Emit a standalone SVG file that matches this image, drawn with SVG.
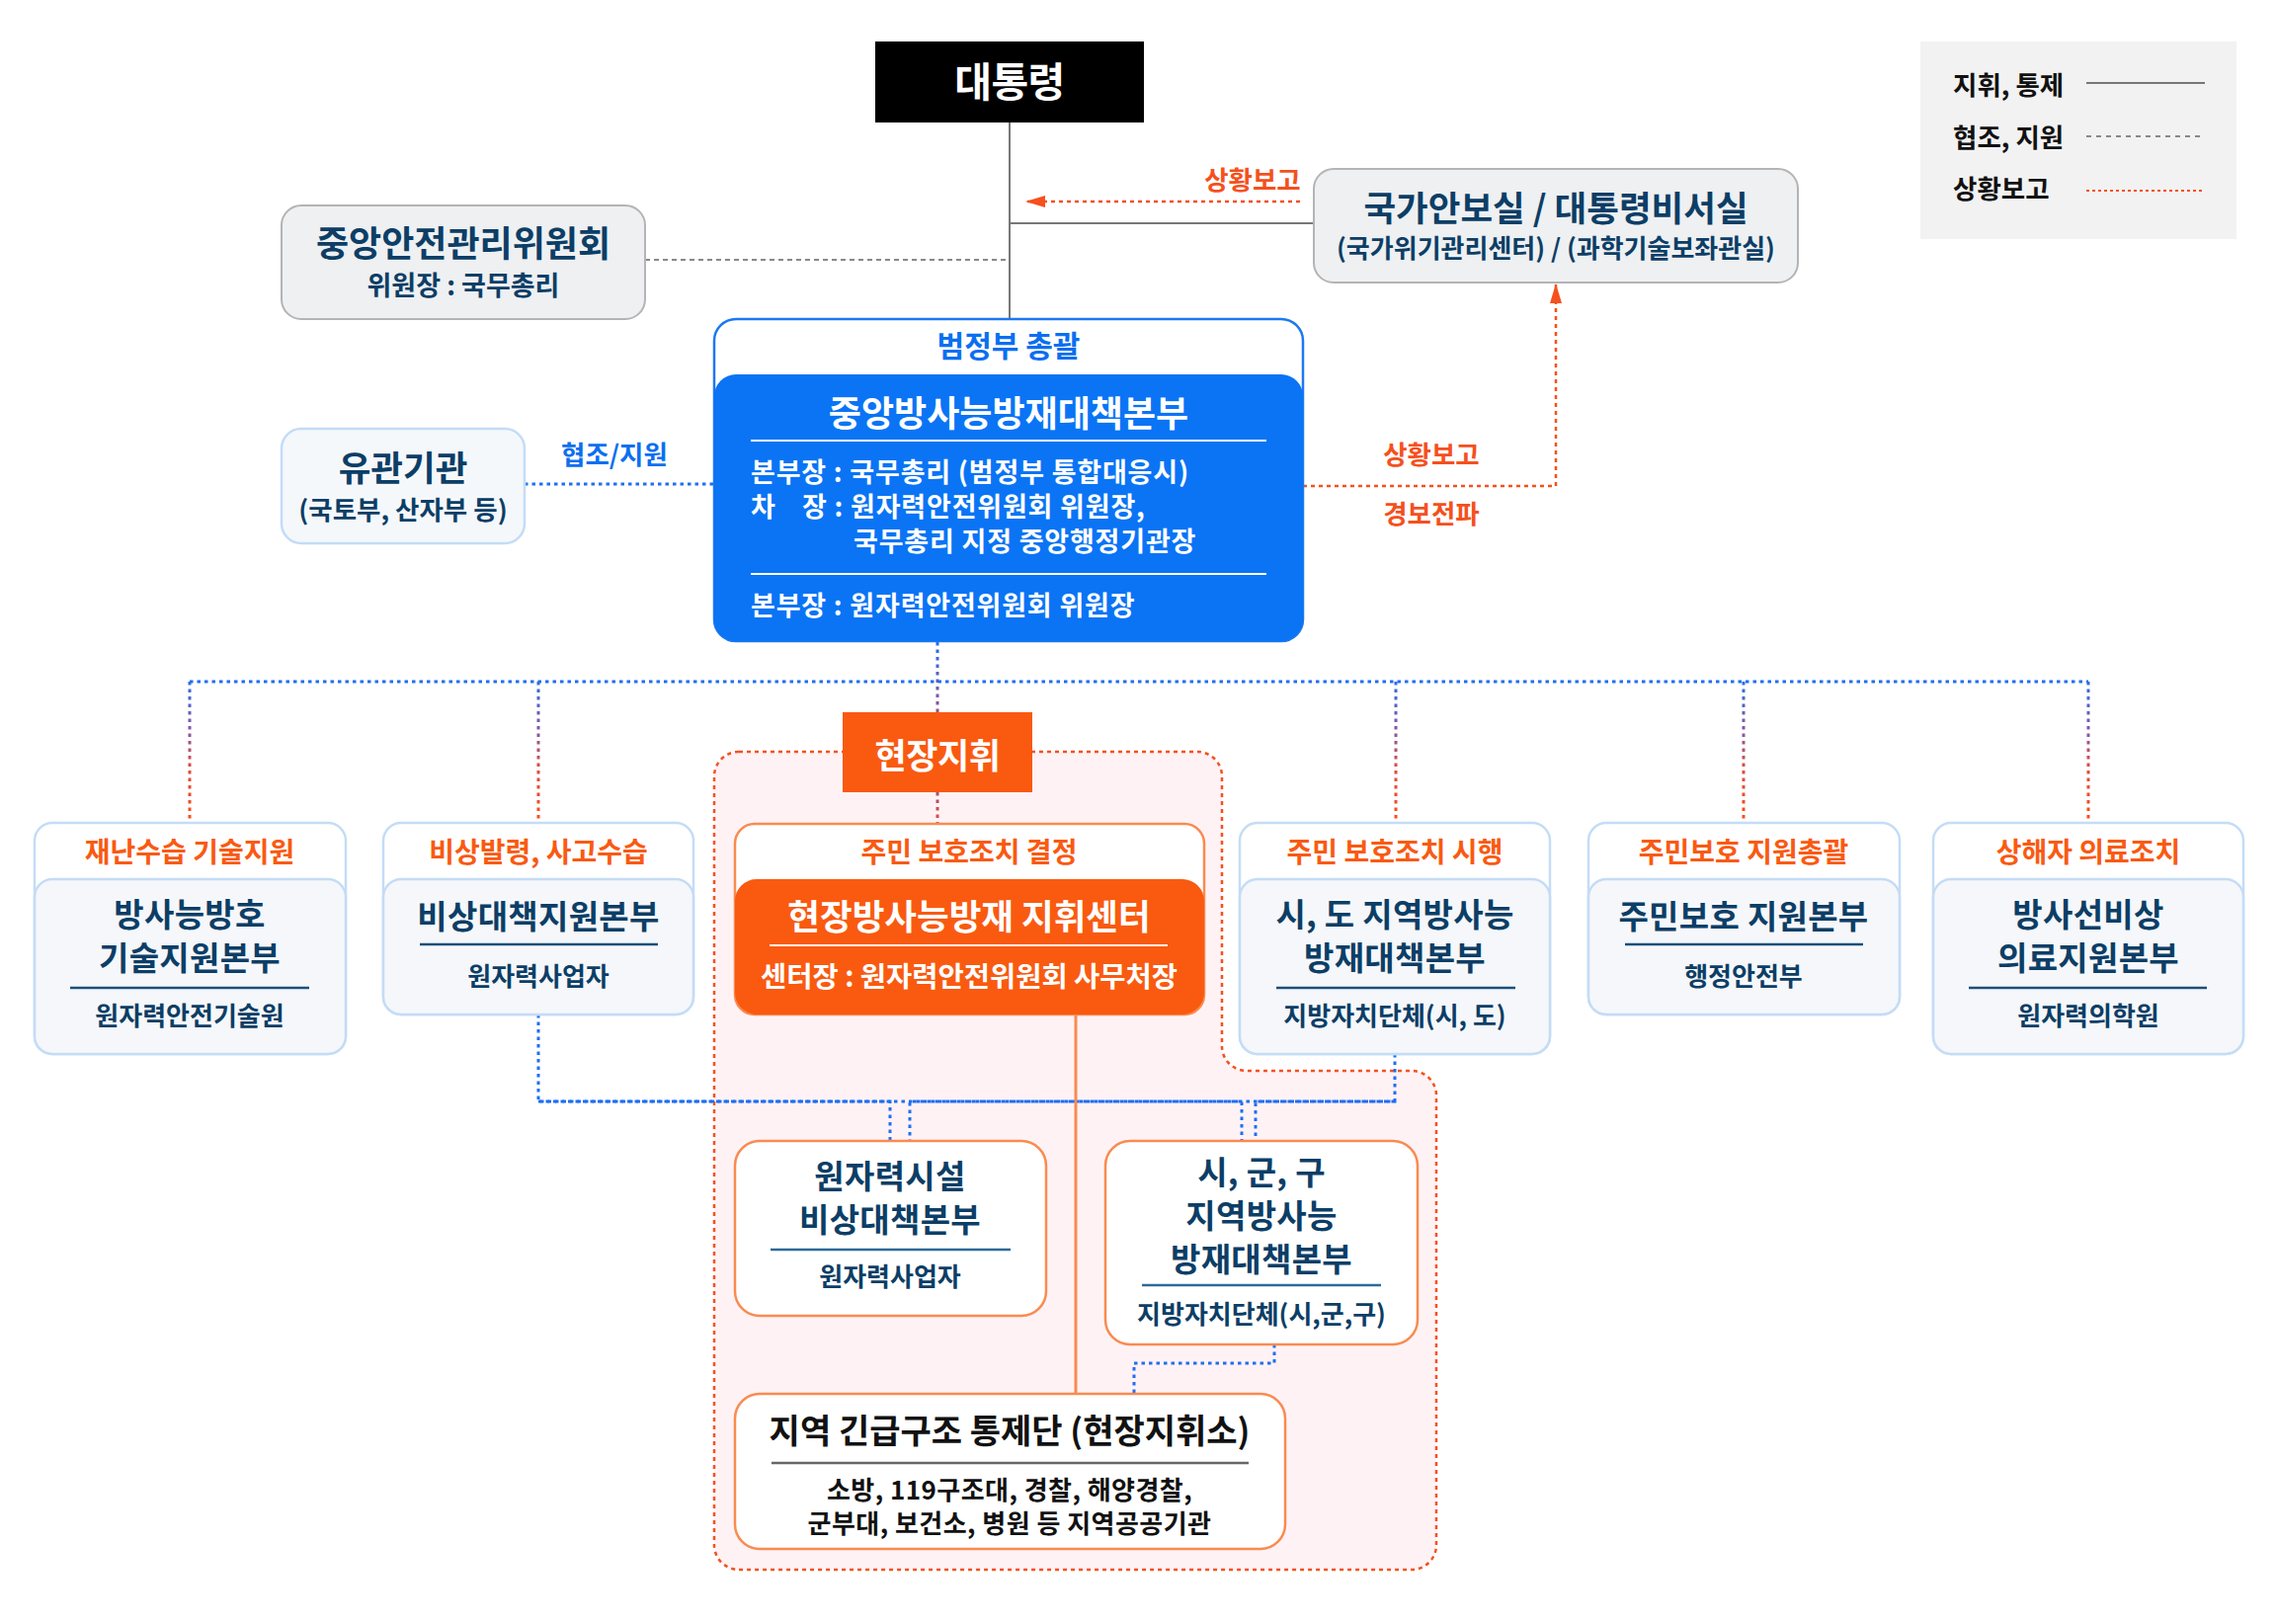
<svg xmlns="http://www.w3.org/2000/svg" width="2304" height="1644" viewBox="0 0 2304 1644">
<defs>
<style>
text{font-family:"Noto Sans CJK KR","Noto Sans",sans-serif;font-weight:700}
.c{text-anchor:middle}
.navy{fill:#0c3e66}
.or{fill:#f95a12}
.wh{fill:#fff}
.bl{fill:#0b6ff0}
.red{fill:#f5501d}
.blk{fill:#111}
.h{font-size:28px}
.lb{font-size:26.5px}
.tt{font-size:33px;letter-spacing:0.3px}
.st{font-size:26px}
.body{font-size:27px;letter-spacing:0.8px}
.hdr{fill:#fff;stroke:#c4dcf6;stroke-width:2.5}
.inn{fill:#f5f7fa;stroke:#c4dcf6;stroke-width:2.5}
.dv{stroke:#1b4f7a;stroke-width:2.5}
.obox{fill:#fff;stroke:#f98b50;stroke-width:2.5}
.bdot{fill:none;stroke:#1f6ff2;stroke-width:3;stroke-dasharray:3.5 4}
.rdot{fill:none;stroke:#f4511e;stroke-width:2.5;stroke-dasharray:4 4}
.gsol{fill:none;stroke:#777;stroke-width:2}
.gdash{fill:none;stroke:#888;stroke-width:2;stroke-dasharray:5 4}
.drop{fill:none;stroke:url(#drop);stroke-width:3;stroke-dasharray:3.5 4}
</style>
<linearGradient id="drop" gradientUnits="userSpaceOnUse" x1="0" y1="690" x2="0" y2="833">
<stop offset="0" stop-color="#2a6ee8"/><stop offset="0.35" stop-color="#8a58a0"/><stop offset="0.6" stop-color="#d84f48"/><stop offset="1" stop-color="#ff4d14"/>
</linearGradient>
<linearGradient id="drop2" gradientUnits="userSpaceOnUse" x1="0" y1="650" x2="0" y2="721">
<stop offset="0" stop-color="#1f6ff2"/><stop offset="1" stop-color="#9a4f8c"/>
</linearGradient>
<linearGradient id="drop3" gradientUnits="userSpaceOnUse" x1="0" y1="802" x2="0" y2="834">
<stop offset="0" stop-color="#b04b78"/><stop offset="1" stop-color="#e04e36"/>
</linearGradient>
<marker id="arr" viewBox="0 0 20 12" refX="20" refY="6" markerWidth="20" markerHeight="12" markerUnits="userSpaceOnUse" orient="auto"><path d="M0,0 L20,6 L0,12 Z" fill="#f4511e"/></marker>
</defs>
<rect width="2304" height="1644" fill="#fff"/>

<g id="field-area">
<path d="M748,761 H1212 A25,25 0 0 1 1237,786 V1059 A25,25 0 0 0 1262,1084 H1429 A25,25 0 0 1 1454,1109 V1564 A25,25 0 0 1 1429,1589 H748 A25,25 0 0 1 723,1564 V786 A25,25 0 0 1 748,761 Z" fill="#fff2f5" stroke="#f4511e" stroke-width="2.5" stroke-dasharray="4 4"/>
</g>

<g id="connectors">
<path class="gsol" d="M1022,124 V323"/>
<path class="gsol" d="M1022,226 H1330"/>
<path class="gdash" d="M653,263 H1022"/>
<path class="rdot" d="M1316,204 H1038" marker-end="url(#arr)"/>
<path class="rdot" d="M1319,492 H1575 V287" marker-end="url(#arr)"/>
<path class="bdot" d="M531,490 H723"/>
<path fill="none" stroke="url(#drop2)" stroke-width="3" stroke-dasharray="3.5 4" d="M949,650 V721"/>
<path class="bdot" d="M192,690 H2114"/>
<path class="drop" d="M192,690 V833"/>
<path class="drop" d="M545,690 V833"/>
<path class="drop" d="M1413,690 V833"/>
<path class="drop" d="M1765,690 V833"/>
<path class="drop" d="M2114,690 V833"/>
<path fill="none" stroke="url(#drop3)" stroke-width="3" stroke-dasharray="3.5 4" d="M949,802 V834"/>
<path class="bdot" d="M545,1027 V1115 H901 V1155"/>
<path class="bdot" d="M1412,1067 V1115 H921 V1155"/>
<path class="bdot" d="M545,1115 H1257 V1155"/>
<path class="bdot" d="M1412,1115 H1271 V1155"/>
<path class="bdot" d="M1290,1361 V1380 H1148 V1411"/>
<path fill="none" stroke="#f98b50" stroke-width="3" d="M1089,1027 V1411"/>
</g>

<g id="labels">
<text class="red c lb" x="1268" y="192">상황보고</text>
<text class="red c lb" x="1449" y="470">상황보고</text>
<text class="red c lb" x="1449" y="530">경보전파</text>
<text class="bl c lb" x="622" y="470">협조/지원</text>
</g>

<g id="president">
<rect x="886" y="42" width="272" height="82" fill="#000"/>
<text class="wh c" x="1022" y="98" font-size="41" letter-spacing="-0.5">대통령</text>
</g>

<g id="central-safety">
<rect x="285" y="208" width="368" height="115" rx="20" fill="#eef0f2" stroke="#b4b4b4" stroke-width="2"/>
<text class="navy c" x="469" y="260" font-size="36">중앙안전관리위원회</text>
<text class="navy c" x="469" y="299" font-size="27">위원장 : 국무총리</text>
</g>

<g id="national-security">
<rect x="1330" y="171" width="490" height="115" rx="20" fill="#eef0f2" stroke="#b4b4b4" stroke-width="2"/>
<text class="navy c" x="1575" y="224" font-size="35.5">국가안보실 / 대통령비서실</text>
<text class="navy c" x="1575" y="261" font-size="26">(국가위기관리센터) / (과학기술보좌관실)</text>
</g>

<g id="central-hq">
<rect x="723" y="323" width="596" height="326" rx="22" fill="#fff" stroke="#1e78f0" stroke-width="2.5"/>
<rect x="723" y="379" width="596" height="270" rx="22" fill="#0a74f5"/>
<text class="bl c" x="1021" y="361" font-size="30">범정부 총괄</text>
<text class="wh c" x="1021" y="432" font-size="36">중앙방사능방재대책본부</text>
<line x1="760" y1="446" x2="1282" y2="446" stroke="#fff" stroke-width="2"/>
<text class="wh body" x="760" y="488">본부장 : 국무총리 (범정부 통합대응시)</text>
<text class="wh body" x="760" y="523">차</text>
<text class="wh body" x="812" y="523">장 : 원자력안전위원회 위원장,</text>
<text class="wh body" x="864" y="558">국무총리 지정 중앙행정기관장</text>
<line x1="760" y1="581" x2="1282" y2="581" stroke="#fff" stroke-width="2"/>
<text class="wh body" x="760" y="623">본부장 : 원자력안전위원회 위원장</text>
</g>

<g id="related-agencies">
<rect x="285" y="434" width="246" height="116" rx="20" fill="#f5f8fb" stroke="#c4dcf6" stroke-width="2.5"/>
<text class="navy c" x="408" y="487" font-size="35.5">유관기관</text>
<text class="navy c" x="408" y="526" font-size="26.5">(국토부, 산자부 등)</text>
</g>

<g id="legend">
<rect x="1944" y="42" width="320" height="200" fill="#f2f2f2"/>
<text class="blk" x="1977" y="96" font-size="26.5">지휘, 통제</text>
<text class="blk" x="1977" y="149" font-size="26.5">협조, 지원</text>
<text class="blk" x="1977" y="201" font-size="26.5">상황보고</text>
<line x1="2112" y1="84" x2="2232" y2="84" stroke="#777" stroke-width="2"/>
<line x1="2112" y1="138" x2="2228" y2="138" stroke="#888" stroke-width="2" stroke-dasharray="5 5"/>
<line x1="2112" y1="193" x2="2230" y2="193" stroke="#f4511e" stroke-width="2" stroke-dasharray="3 3"/>
</g>

<g id="field-command">
<rect x="853" y="721" width="192" height="81" fill="#f95a10"/>
<text class="wh c" x="949" y="778" font-size="35" letter-spacing="-0.5">현장지휘</text>
</g>

<g id="tech-support">
<rect class="hdr" x="35" y="833" width="315" height="234" rx="18"/>
<rect class="inn" x="35" y="890" width="315" height="177" rx="18"/>
<text class="or c h" x="192" y="873">재난수습 기술지원</text>
<text class="navy c tt" x="192" y="938">방사능방호</text>
<text class="navy c tt" x="192" y="982">기술지원본부</text>
<line class="dv" x1="71" y1="1000" x2="313" y2="1000"/>
<text class="navy c st" x="192" y="1038">원자력안전기술원</text>
</g>

<g id="emergency-support">
<rect class="hdr" x="388" y="833" width="314" height="194" rx="18"/>
<rect class="inn" x="388" y="890" width="314" height="137" rx="18"/>
<text class="or c h" x="545" y="873">비상발령, 사고수습</text>
<text class="navy c tt" x="545" y="940">비상대책지원본부</text>
<line class="dv" x1="425" y1="956" x2="666" y2="956"/>
<text class="navy c st" x="545" y="998">원자력사업자</text>
</g>

<g id="field-center">
<rect class="obox" x="744" y="834" width="475" height="193" rx="20"/>
<rect x="744" y="890" width="475" height="137" rx="22" fill="#f95a10"/>
<text class="or c h" x="981" y="873">주민 보호조치 결정</text>
<text class="wh c" x="981" y="941" font-size="35.5">현장방사능방재 지휘센터</text>
<line x1="779" y1="957" x2="1182" y2="957" stroke="#fff" stroke-width="2"/>
<text class="wh c" x="981" y="999" font-size="28.5">센터장 : 원자력안전위원회 사무처장</text>
</g>

<g id="province-hq">
<rect class="hdr" x="1255" y="833" width="314" height="234" rx="18"/>
<rect class="inn" x="1255" y="890" width="314" height="177" rx="18"/>
<text class="or c h" x="1412" y="873">주민 보호조치 시행</text>
<text class="navy c tt" x="1412" y="938">시, 도 지역방사능</text>
<text class="navy c tt" x="1412" y="982">방재대책본부</text>
<line class="dv" x1="1292" y1="1000" x2="1534" y2="1000"/>
<text class="navy c st" x="1412" y="1038">지방자치단체(시, 도)</text>
</g>

<g id="resident-support">
<rect class="hdr" x="1608" y="833" width="315" height="194" rx="18"/>
<rect class="inn" x="1608" y="890" width="315" height="137" rx="18"/>
<text class="or c h" x="1765" y="873">주민보호 지원총괄</text>
<text class="navy c tt" x="1765" y="940">주민보호 지원본부</text>
<line class="dv" x1="1645" y1="956" x2="1886" y2="956"/>
<text class="navy c st" x="1765" y="998">행정안전부</text>
</g>

<g id="medical-support">
<rect class="hdr" x="1957" y="833" width="314" height="234" rx="18"/>
<rect class="inn" x="1957" y="890" width="314" height="177" rx="18"/>
<text class="or c h" x="2114" y="873">상해자 의료조치</text>
<text class="navy c tt" x="2114" y="938">방사선비상</text>
<text class="navy c tt" x="2114" y="982">의료지원본부</text>
<line class="dv" x1="1993" y1="1000" x2="2234" y2="1000"/>
<text class="navy c st" x="2114" y="1038">원자력의학원</text>
</g>

<g id="facility-hq">
<rect class="obox" x="744" y="1155" width="315" height="177" rx="25"/>
<text class="navy c tt" x="901" y="1203">원자력시설</text>
<text class="navy c tt" x="901" y="1247">비상대책본부</text>
<line x1="780" y1="1265" x2="1023" y2="1265" stroke="#2c6a9a" stroke-width="2.5"/>
<text class="navy c st" x="901" y="1302">원자력사업자</text>
</g>

<g id="city-hq">
<rect class="obox" x="1119" y="1155" width="316" height="206" rx="25"/>
<text class="navy c tt" x="1277" y="1199">시, 군, 구</text>
<text class="navy c tt" x="1277" y="1243">지역방사능</text>
<text class="navy c tt" x="1277" y="1287">방재대책본부</text>
<line x1="1156" y1="1301" x2="1398" y2="1301" stroke="#2c6a9a" stroke-width="2.5"/>
<text class="navy c st" x="1277" y="1340">지방자치단체(시,군,구)</text>
</g>

<g id="rescue-control">
<rect class="obox" x="744" y="1411" width="557" height="157" rx="25"/>
<text class="blk c" x="1022" y="1461" font-size="34">지역 긴급구조 통제단 (현장지휘소)</text>
<line x1="781" y1="1481" x2="1264" y2="1481" stroke="#666" stroke-width="2.5"/>
<text class="blk c" x="1022" y="1518" font-size="26" letter-spacing="0.45">소방, 119구조대, 경찰, 해양경찰,</text>
<text class="blk c" x="1022" y="1552" font-size="26" letter-spacing="0.45">군부대, 보건소, 병원 등 지역공공기관</text>
</g>
</svg>
